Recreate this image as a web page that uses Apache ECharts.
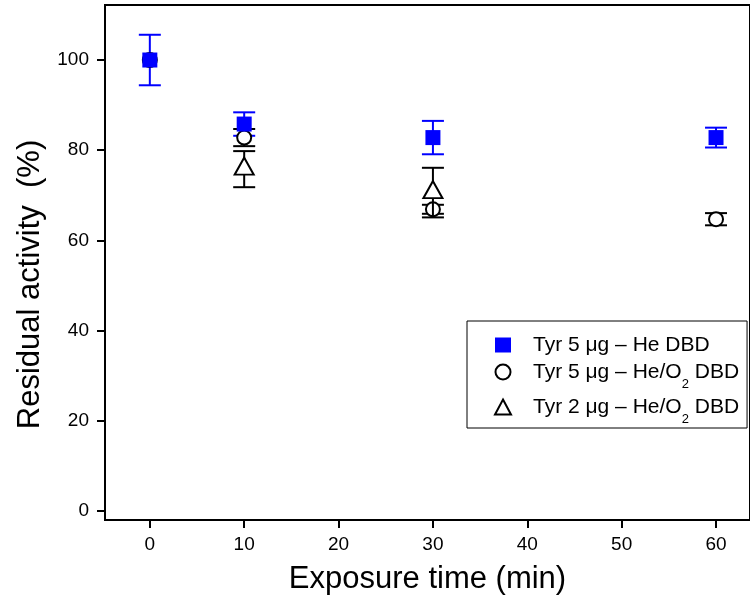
<!DOCTYPE html>
<html>
<head>
<meta charset="utf-8">
<script src="https://cdn.jsdelivr.net/npm/echarts@6/dist/echarts.min.js"></script>
<style>
  html, body { margin: 0; padding: 0; background: #fff; }
  #chart { width: 750px; height: 608px; }
</style>
</head>
<body>
<div id="chart"></div>
<script>
// Exposure times (min) and residual activity (%) with standard deviations
const seriesNames = ['Tyr 5 μg – He DBD', 'Tyr 5 μg – He/O2 DBD', 'Tyr 2 μg – He/O2 DBD'];

const heTime = [0, 10, 30, 60];
const heValue = [100, 85.8, 82.8, 82.8];
const heError = [5.6, 2.6, 3.7, 2.2];

const heO2Time5 = [0, 10, 30, 60];
const heO2Value5 = [100, 82.8, 66.9, 64.7];
const heO2Error5 = [0, 1.9, 1.0, 1.35];

const heO2Time2 = [10, 30];
const heO2Value2 = [75.8, 70.6];
const heO2Error2 = [4.0, 5.5];

const xTicks = [0, 10, 20, 30, 40, 50, 60];
const yTicks = [0, 20, 40, 60, 80, 100];

const FONT = '"Liberation Sans", Arial, Helvetica, sans-serif';

function points(t, v) { return t.map((x, i) => [x, v[i]]); }
// Points without a deviation (reference value at t = 0) get no error bar
function errPoints(t, v, e) {
  return t.map((x, i) => [x, v[i], e[i]]).filter(p => p[2] > 0);
}

// Vertical error bar with horizontal caps
function errorBar(color) {
  return function (params, api) {
    const x = api.value(0), y = api.value(1), e = api.value(2);
    const hi = api.coord([x, y + e]);
    const lo = api.coord([x, y - e]);
    const cap = 11;
    const style = { stroke: color, lineWidth: 2 };
    return {
      type: 'group',
      children: [
        { type: 'line', shape: { x1: hi[0], y1: hi[1], x2: lo[0], y2: lo[1] }, style },
        { type: 'line', shape: { x1: hi[0] - cap, y1: hi[1], x2: hi[0] + cap, y2: hi[1] }, style },
        { type: 'line', shape: { x1: lo[0] - cap, y1: lo[1], x2: lo[0] + cap, y2: lo[1] }, style }
      ]
    };
  };
}

const chart = echarts.init(document.getElementById('chart'), null, { renderer: 'canvas' });

chart.setOption({
  backgroundColor: '#fff',
  animation: false,
  textStyle: { fontFamily: FONT },
  grid: {
    left: 105, top: 5, right: -3, bottom: 88,
    show: true, borderColor: '#000', borderWidth: 2
  },
  xAxis: {
    type: 'value',
    min: -4.75, max: 63.6,
    name: 'Exposure time (min)',
    nameLocation: 'middle',
    nameGap: 44,
    nameTextStyle: { fontSize: 31, color: '#000', fontFamily: FONT },
    axisLine: { onZero: false, lineStyle: { color: '#000', width: 2 } },
    axisTick: { inside: false, length: 8, lineStyle: { color: '#000', width: 2 }, customValues: xTicks },
    axisLabel: { fontSize: 19, color: '#000', margin: 15, fontFamily: FONT, customValues: xTicks },
    splitLine: { show: false }
  },
  yAxis: {
    type: 'value',
    min: -2, max: 112.2,
    name: 'Residual activity  (%)',
    nameLocation: 'middle',
    nameGap: 58,
    nameRotate: 90,
    nameTextStyle: { fontSize: 31, color: '#000', fontFamily: FONT, padding: [0, 44, 0, 0] },
    axisLine: { onZero: false, lineStyle: { color: '#000', width: 2 } },
    axisTick: { inside: false, length: 8, lineStyle: { color: '#000', width: 2 }, customValues: yTicks },
    axisLabel: { fontSize: 19, color: '#000', margin: 16, fontFamily: FONT, customValues: yTicks },
    splitLine: { show: false }
  },
  legend: {
    data: seriesNames,
    orient: 'vertical',
    left: 467, top: 321,
    padding: [13, 8, 2, 27],
    itemGap: 5,
    itemWidth: 16, itemHeight: 15,
    borderColor: '#000', borderWidth: 1,
    backgroundColor: '#fff',
    formatter: name => name.replace('O2', 'O{sub|2}'),
    textStyle: {
      fontSize: 21, color: '#000', fontFamily: FONT, lineHeight: 22,
      padding: [0, 0, 0, 17],
      rich: {
        sub: { fontSize: 13, lineHeight: 13, fontFamily: FONT, color: '#000', verticalAlign: 'top', padding: [17, 0, 0, 0] }
      }
    }
  },
  series: [
    {
      type: 'custom', name: 'heErr', z: 2,
      renderItem: errorBar('#0000ff'),
      data: errPoints(heTime, heValue, heError)
    },
    {
      type: 'scatter', name: seriesNames[0], z: 5,
      symbol: 'rect', symbolSize: 15,
      itemStyle: { color: '#0000ff', opacity: 1 },
      data: points(heTime, heValue)
    },
    {
      type: 'custom', name: 'heO2Err5', z: 2,
      renderItem: errorBar('#000'),
      data: errPoints(heO2Time5, heO2Value5, heO2Error5)
    },
    {
      type: 'scatter', name: seriesNames[1], z: 3,
      symbol: 'circle', symbolSize: 14,
      itemStyle: { color: '#fff', borderColor: '#000', borderWidth: 2, opacity: 1 },
      data: points(heO2Time5, heO2Value5)
    },
    {
      type: 'custom', name: 'heO2Err2', z: 4,
      renderItem: errorBar('#000'),
      data: errPoints(heO2Time2, heO2Value2, heO2Error2)
    },
    {
      type: 'scatter', name: seriesNames[2], z: 4,
      symbol: 'triangle', symbolSize: [19, 17], symbolOffset: [0, -3],
      itemStyle: { color: '#fff', borderColor: '#000', borderWidth: 2, opacity: 1 },
      data: points(heO2Time2, heO2Value2)
    }
  ]
});
</script>
</body>
</html>
